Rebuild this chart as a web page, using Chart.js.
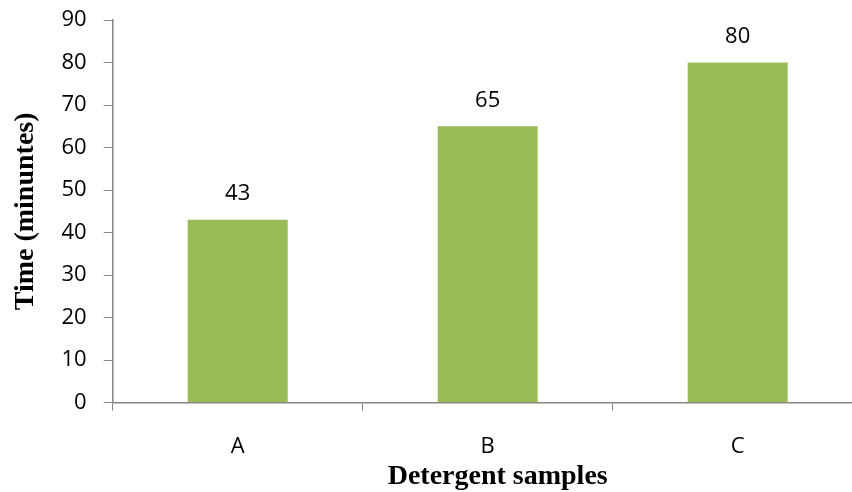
<!DOCTYPE html>
<html>
<head>
<meta charset="utf-8">
<script src="https://cdn.jsdelivr.net/npm/chart.js@4.4.0/dist/chart.umd.min.js"></script>
<style>
  html, body { margin: 0; padding: 0; background: #fff; overflow: hidden; }
  #wrap { width: 870px; height: 492px; }
</style>
</head>
<body>
<div id="wrap"><canvas id="c" width="870" height="492"></canvas></div>
<script>
const categories = ['A', 'B', 'C'];
const timeValues = [43, 65, 80];
const yTicks = [0, 10, 20, 30, 40, 50, 60, 70, 80, 90];
const xTitle = 'Detergent samples';
const yTitle = 'Time (minuntes)';

const barLabels = {
  id: 'barLabels',
  afterDatasetsDraw(chart) {
    const ctx = chart.ctx;
    ctx.save();
    ctx.font = '22px "Open Sans"';
    ctx.fillStyle = '#000';
    ctx.textAlign = 'center';
    ctx.textBaseline = 'middle';
    chart.data.datasets.forEach((ds, di) => {
      chart.getDatasetMeta(di).data.forEach((el, i) => {
        ctx.fillText(String(ds.data[i]), el.x, el.y - 26);
      });
    });
    // x axis title
    const ca = chart.chartArea;
    ctx.font = 'bold 28px "Liberation Serif"';
    ctx.textBaseline = 'alphabetic';
    ctx.fillText(xTitle, (ca.left + ca.right) / 2 + 10, 484);
    ctx.restore();
  }
};

new Chart(document.getElementById('c'), {
  type: 'bar',
  data: {
    labels: categories,
    datasets: [{
      data: timeValues,
      backgroundColor: '#9BBB59',
      borderWidth: 0,
      barPercentage: 0.4,
      categoryPercentage: 1.0
    }]
  },
  options: {
    responsive: false,
    animation: false,
    events: [],
    layout: { padding: { top: 20, right: 7.3, left: 0, bottom: 0 } },
    plugins: { legend: { display: false }, tooltip: { enabled: false } },
    scales: {
      x: {
        offset: true,
        grid: { offset: true, drawOnChartArea: false, drawTicks: true, tickLength: 8, color: '#868686', lineWidth: 1 },
        border: { color: '#868686', width: 1.5 },
        ticks: { color: '#000', font: { family: 'Open Sans', size: 22 }, padding: 23 },
        title: { display: false },
        afterFit(scale) { scale.height = 89.3; scale.paddingLeft = 0; scale.paddingRight = 0; }
      },
      y: {
        min: 0, max: 90,
        afterBuildTicks(scale) { scale.ticks = yTicks.map(v => ({ value: v })); },
        grid: { drawOnChartArea: false, drawTicks: true, tickLength: 9, color: '#868686', lineWidth: 1 },
        border: { color: '#868686', width: 1.5 },
        ticks: { color: '#000', font: { family: 'Open Sans', size: 22 }, padding: 17 },
        title: { display: true, text: yTitle, color: '#000', font: { family: 'Liberation Serif', size: 28, weight: 'bold' }, padding: { top: 9, bottom: 0 } },
        afterFit(scale) { scale.width = 112.7; scale.paddingTop = 0; scale.paddingBottom = 0; }
      }
    }
  },
  plugins: [barLabels]
});
</script>
</body>
</html>
